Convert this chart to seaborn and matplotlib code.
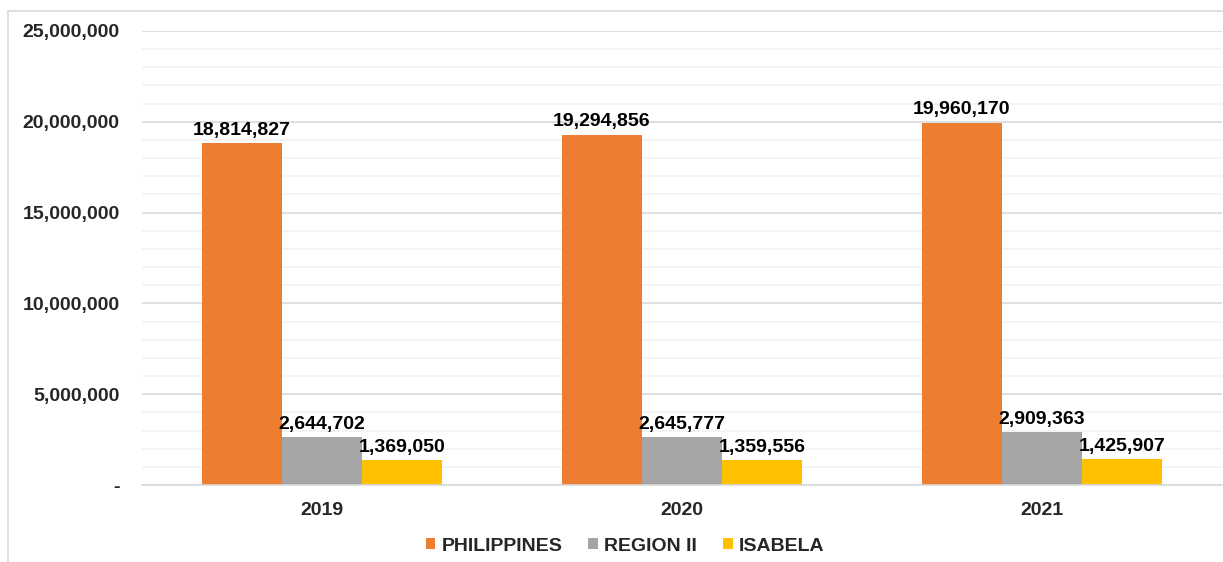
import seaborn as sns
import matplotlib.pyplot as plt
import pandas as pd
from matplotlib.patches import Rectangle
from matplotlib.ticker import MultipleLocator, FuncFormatter

years = ['2019', '2020', '2021']
areas = ['PHILIPPINES', 'REGION II', 'ISABELA']
philippines = [18814827, 19294856, 19960170]
region_ii = [2644702, 2645777, 2909363]
isabela = [1369050, 1359556, 1425907]
colors = ['#ED7D31', '#A5A5A5', '#FFC000']

df = pd.DataFrame({
    'year': years * 3,
    'area': [a for a in areas for _ in years],
    'value': philippines + region_ii + isabela,
})

sns.set_style('white')
plt.rcParams['font.family'] = ['Liberation Sans', 'DejaVu Sans']
plt.rcParams['font.weight'] = 'bold'

fig = plt.figure(figsize=(12.23, 5.62), dpi=100)
ax = fig.add_axes([142 / 1223, 1 - 485 / 562, 1080 / 1223, 454 / 562])

sns.barplot(data=df, x='year', y='value', hue='area', hue_order=areas,
            palette=colors, width=0.667, gap=0, saturation=1, linewidth=0,
            ax=ax, zorder=2)

for cont in ax.containers:
    ax.bar_label(cont, labels=[f'{v:,.0f}' for v in cont.datavalues],
                 padding=3, fontsize=14, fontweight='bold', color='#000000')

ax.set_ylim(0, 25000000)
ax.yaxis.set_major_locator(MultipleLocator(5000000))
ax.yaxis.set_minor_locator(MultipleLocator(1000000))
ax.yaxis.set_major_formatter(FuncFormatter(lambda v, p: '-' if v == 0 else f'{v:,.0f}'))
ax.grid(which='major', axis='y', color='#D9D9D9', linewidth=1.2, zorder=0)
ax.grid(which='minor', axis='y', color='#F2F2F2', linewidth=1.2, zorder=0)
ax.set_axisbelow(True)
ax.tick_params(axis='both', which='both', length=0, labelsize=14)
ax.tick_params(axis='y', pad=16)
ax.tick_params(axis='x', pad=12)
for lab in ax.get_xticklabels() + ax.get_yticklabels():
    lab.set_fontweight('bold')
ax.set_xlabel('')
ax.set_ylabel('')
for s in ['top', 'right', 'left']:
    ax.spines[s].set_visible(False)
ax.spines['bottom'].set_color('#D9D9D9')
ax.spines['bottom'].set_linewidth(1.2)

ax.legend(loc='center', bbox_to_anchor=(0.5 - 57 / 1080, -0.135), ncol=3, frameon=False,
          prop={'size': 14, 'weight': 'bold'}, handlelength=0.5, handleheight=0.5,
          handletextpad=0.3, columnspacing=1.35)

fig.patches.append(Rectangle((8 / 1223, -0.1), 1.2, 1 - 11 / 562 + 0.1,
                             transform=fig.transFigure, fill=False,
                             edgecolor='#D9D9D9', linewidth=1.2))

fig.savefig('out.png', dpi=100)
